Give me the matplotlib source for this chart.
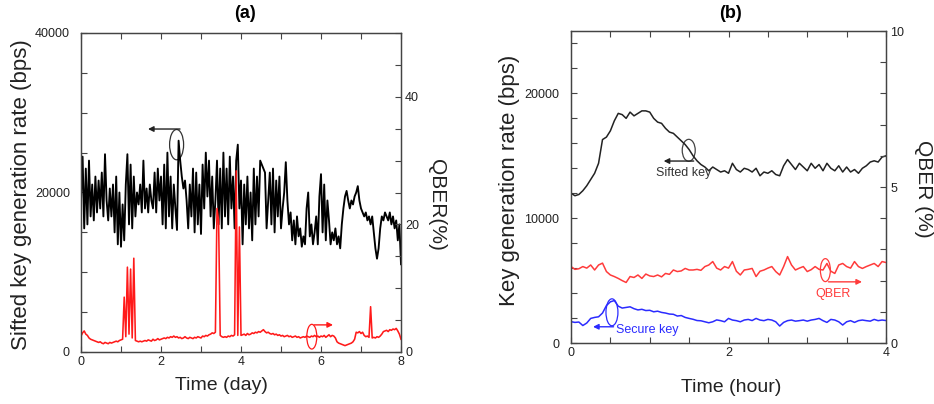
import matplotlib
matplotlib.use('Agg')
import matplotlib.pyplot as plt
from matplotlib import font_manager
from matplotlib.patches import Ellipse
from matplotlib.ticker import MultipleLocator
import numpy as np

# ---------------------------------------------------------------------
# DATA
# ---------------------------------------------------------------------
# (a) 8-day run, one sample every 0.04 day
day_step = 0.04

# sifted key rate, kbps (blocks of 0.4 day)
sifted_a_k = [
    19, 24.5, 15.5, 23, 16, 24, 17, 21, 16.5, 22,
    17.5, 21.5, 18, 22.5, 17, 24.8, 19, 16.5, 20.5, 17,
    21, 15, 22, 13.5, 20, 13.2, 18.5, 14, 21, 24.8,
    16, 23.5, 15.5, 22, 17, 20, 18.5, 21, 17.5, 24,
    18, 20.5, 17.5, 21, 19, 18, 22.5, 17.5, 23, 19,
    22, 16, 23.5, 15.5, 25, 17, 22, 15.5, 21, 18,
    15.3, 26.5, 24, 22, 20.5, 21.5, 19, 15.5, 21, 17,
    23, 15, 22.5, 16, 21, 14.8, 23.5, 18, 25, 19.5,
    24, 17, 22, 15.5, 19, 24, 16, 23, 15.5, 25,
    17, 23, 16, 24.5, 18, 22, 15.5, 24, 26, 18,
    21.5, 13.5, 21, 16, 22, 15.5, 20, 14, 23, 16,
    22, 17, 24, 23.5, 23, 22.5, 15.5, 19, 22.5, 16,
    23, 15, 21.5, 17, 22, 15.5, 18, 20, 23.8, 19,
    16, 17.5, 14, 16.5, 13.5, 17, 14.5, 15.5, 13.2, 14.5,
    13.5, 18, 20, 14.5, 16, 13.5, 15, 17, 13.5, 19.5,
    22.3, 15, 21, 14, 19, 16.5, 13.5, 15, 14, 15.5,
    13.5, 14.5, 13, 16, 18, 19.5, 20.2, 19, 18, 19,
    18.5, 19.5, 20, 20.8, 19, 18, 17.5, 17, 17.5, 16.5,
    17, 16, 17, 15, 13, 11.7, 13, 15.5, 17, 16.5,
    17.5, 17, 16.5, 17.5, 16, 17, 15.5, 16.5, 14, 16, 11,
]

# QBER, %
qber_a = [
    2.5, 3.0, 3.3, 2.8, 2.6, 2.2, 2.0, 1.9, 1.8, 1.7,
    1.6, 1.5, 1.6, 1.4, 1.3, 1.5, 1.4, 1.3, 1.5, 1.4,
    1.5, 1.6, 1.7, 1.6, 1.8, 1.9, 2.0, 8.6, 2.4, 13.3,
    2.8, 13.0, 2.2, 14.7, 1.8, 1.7, 1.6, 1.7, 1.6, 1.7,
    1.8, 1.7, 1.9, 1.8, 1.7, 2.0, 1.8, 1.9, 2.1, 1.9,
    2.0, 2.1, 2.2, 2.1, 2.3, 2.2, 2.4, 2.3, 2.5, 2.3,
    2.4, 2.2, 2.3, 2.1, 2.2, 2.4, 2.2, 2.1, 2.3, 2.2,
    2.1, 2.3, 2.2, 2.4, 2.3, 2.2, 2.5, 2.4, 2.6, 2.5,
    2.7, 2.8, 3.0, 2.9, 3.1, 22.5, 20.6, 2.6, 2.4, 2.3,
    2.4, 2.3, 2.5, 2.4, 2.6, 2.5, 2.7, 28.4, 2.6, 19.6,
    2.6, 2.7, 2.8, 2.6, 2.9, 2.7, 2.8, 3.0, 2.9, 3.1,
    3.0, 3.2, 3.1, 3.3, 3.5, 3.2, 3.0, 3.1, 2.9, 2.8,
    2.9, 2.7, 2.8, 2.6, 2.7, 2.5, 2.6, 2.4, 2.5, 2.6,
    2.4, 2.5, 2.3, 2.4, 2.5, 2.3, 2.4, 2.2, 2.3, 2.4,
    2.3, 2.5, 2.4, 2.3, 2.5, 2.4, 2.6, 2.4, 2.5, 2.3,
    2.5, 2.4, 2.6, 2.3, 2.5, 2.7, 2.4, 2.6, 2.5, 2.2,
    1.6, 1.4, 1.3, 1.2, 1.1, 1.0, 1.1, 1.2, 1.3, 1.4,
    1.6, 2.0, 3.1, 3.0, 3.2, 2.9, 3.1, 2.6, 2.4, 2.5,
    2.3, 7.1, 2.2, 2.3, 2.2, 2.4, 2.3, 2.5, 2.8, 3.2,
    3.3, 3.4, 3.2, 3.5, 3.4, 3.6, 3.5, 3.7, 3.3, 2.8, 2.0,
]

# (b) 4-hour run, one sample every 0.05 hour
hour_step = 0.05

sifted_b_k = [
    12.0, 11.8, 11.9, 12.2, 12.6, 13.1, 13.6, 14.4, 16.3, 16.5,
    17.0, 17.8, 18.4, 18.3, 18.0, 18.5, 18.2, 18.4, 18.6, 18.6,
    18.5, 18.0, 17.7, 17.6, 17.2, 16.9, 16.8, 16.5, 16.2, 15.9,
    15.5, 15.0, 14.6, 14.3, 14.1, 13.8, 14.1, 13.9, 13.7, 13.8,
    13.6, 14.4, 13.9, 13.7, 14.0, 13.9, 13.7, 14.0, 13.4, 13.7,
    13.6, 13.8, 13.5, 13.4, 14.2, 14.7, 14.3, 13.9, 14.4, 14.1,
    13.8, 14.4, 14.0, 14.3, 13.8, 14.4, 14.0, 13.8, 14.2, 13.7,
    14.1, 13.7, 13.9, 13.6, 14.0, 14.2, 14.5, 14.6, 14.5, 14.9, 15.0,
]

qber_b = [
    2.45, 2.36, 2.38, 2.45, 2.40, 2.50, 2.34, 2.50, 2.56, 2.29,
    2.18, 2.13, 2.07, 2.00, 1.94, 2.13, 2.10, 2.18, 2.07, 2.21,
    2.15, 2.13, 2.18, 2.12, 2.23, 2.20, 2.34, 2.29, 2.31, 2.39,
    2.34, 2.34, 2.36, 2.33, 2.45, 2.50, 2.61, 2.40, 2.34, 2.45,
    2.40, 2.61, 2.30, 2.18, 2.34, 2.36, 2.39, 2.13, 2.30, 2.34,
    2.40, 2.45, 2.29, 2.18, 2.45, 2.77, 2.50, 2.34, 2.40, 2.45,
    2.29, 2.35, 2.45, 2.36, 2.34, 2.55, 2.30, 2.23, 2.50, 2.55,
    2.45, 2.40, 2.61, 2.45, 2.39, 2.45, 2.50, 2.55, 2.45, 2.61, 2.58,
]

secure_b_k = [
    1.71, 1.65, 1.68, 1.40, 1.60, 1.97, 2.05, 2.10, 2.40, 3.00,
    3.30, 3.40, 2.95, 2.80, 2.85, 2.90, 2.75, 2.65, 2.70, 2.60,
    2.62, 2.50, 2.55, 2.45, 2.40, 2.32, 2.30, 2.16, 2.20, 2.05,
    1.97, 1.90, 1.80, 1.78, 1.70, 1.62, 1.70, 1.85, 1.79, 1.70,
    1.97, 1.84, 1.79, 1.70, 1.84, 1.89, 1.80, 1.97, 1.84, 1.79,
    1.89, 1.84, 1.70, 1.36, 1.65, 1.79, 1.84, 1.75, 1.79, 1.84,
    1.75, 1.84, 1.89, 1.97, 1.79, 1.65, 1.89, 1.84, 1.70, 1.44,
    1.70, 1.79, 1.65, 1.79, 1.84, 1.79, 1.75, 1.89, 1.79, 1.84, 1.80,
]

days = np.arange(len(sifted_a_k)) * day_step
hours = np.arange(len(sifted_b_k)) * hour_step

# ---------------------------------------------------------------------
# FONTS
# ---------------------------------------------------------------------
installed = {f.name for f in font_manager.fontManager.ttflist}
if 'Liberation Sans Narrow' in installed:
    tick_font, tick_size = 'Liberation Sans Narrow', 10.5
else:
    tick_font, tick_size = 'Liberation Sans', 9
plt.rcParams['font.family'] = ['Liberation Sans', 'DejaVu Sans']

SPINE = '#444444'
TXT = '#222222'

W, H = 934, 404
fig = plt.figure(figsize=(W / 100, H / 100), dpi=100)


def style_axes(ax, ax2, xmaj, xmin, ymaj, ymin, y2maj, y2min, lpad):
    for a in (ax, ax2):
        for s in a.spines.values():
            s.set_color(SPINE)
            s.set_linewidth(0.9)
    ax.xaxis.set_major_locator(MultipleLocator(xmaj))
    ax.xaxis.set_minor_locator(MultipleLocator(xmin))
    ax.yaxis.set_major_locator(MultipleLocator(ymaj))
    ax.yaxis.set_minor_locator(MultipleLocator(ymin))
    ax2.yaxis.set_major_locator(MultipleLocator(y2maj))
    ax2.yaxis.set_minor_locator(MultipleLocator(y2min))
    ax.tick_params(which='both', direction='in', top=True, right=False,
                   length=4, width=0.8, color=SPINE, labelcolor=TXT,
                   labelsize=tick_size)
    ax.tick_params(axis='x', which='both', pad=3)
    ax.tick_params(axis='y', which='both', pad=lpad)
    ax2.tick_params(which='both', direction='in', length=4, width=0.8,
                    color=SPINE, labelcolor=TXT, labelsize=tick_size, pad=3)
    for lab in ax.get_xticklabels() + ax.get_yticklabels() + ax2.get_yticklabels():
        lab.set_family(tick_font)


def arrow(ax, tail, tip, color):
    ax.annotate('', xy=tip, xytext=tail,
                arrowprops=dict(arrowstyle='-|>', color=color, lw=1.0,
                                mutation_scale=8, shrinkA=0, shrinkB=0))


# =====================================================================
# PANEL (a)
# =====================================================================
axa = fig.add_axes([81 / W, 1 - 352 / H, 320 / W, 319 / H])
axa2 = axa.twinx()
axa.plot(days, np.array(sifted_a_k) * 1000, color='black', linewidth=1.35)
axa2.plot(days, qber_a, color='#ff1a1a', linewidth=1.15)
axa.set_xlim(0, 8)
axa.set_ylim(0, 40000)
axa2.set_ylim(0, 50)
style_axes(axa, axa2, 2, 1, 20000, 5000, 20, 5, 8)

# annotations in left-axis (bps) coordinates
axa.add_patch(Ellipse((2.39, 26000), 0.35, 3800, fill=False,
                      edgecolor='#333333', lw=0.9))
arrow(axa, (2.475, 27960), (1.675, 27960), '#222222')
axa.add_patch(Ellipse((5.77, 1920), 0.25, 3100, fill=False,
                      edgecolor='#ff1a1a', lw=0.9))
arrow(axa, (5.83, 3400), (6.3, 3400), '#ff1a1a')

fig.text(245 / W, 1 - 13 / H, '(a)', fontsize=13, fontweight='bold',
         ha='center', va='center', color='black')
fig.text(21.7 / W, 1 - 195 / H, 'Sifted key generation rate (bps)',
         fontsize=16, rotation=90, ha='center', va='center', color=TXT)
fig.text(437 / W, 1 - 205 / H, 'QBER(%)', fontsize=15, rotation=-90,
         ha='center', va='center', color=TXT)
fig.text(221.5 / W, 1 - 386 / H, 'Time (day)', fontsize=14,
         ha='center', va='center', color=TXT)

# =====================================================================
# PANEL (b)
# =====================================================================
axb = fig.add_axes([571 / W, 1 - 343 / H, 315 / W, 312 / H])
axb2 = axb.twinx()
axb.plot(hours, np.array(sifted_b_k) * 1000, color='#222222', linewidth=1.1)
axb.plot(hours, np.array(secure_b_k) * 1000, color='#2b2bff', linewidth=1.1)
axb2.plot(hours, qber_b, color='#ff3b3b', linewidth=1.1)
axb.set_xlim(0, 4)
axb.set_ylim(0, 25000)
axb2.set_ylim(0, 10)
style_axes(axb, axb2, 2, 0.5, 10000, 2000, 5, 1, 8.5)

axb.add_patch(Ellipse((1.495, 15440), 0.165, 1760, fill=False,
                      edgecolor='#444444', lw=0.9))
arrow(axb, (1.558, 14580), (1.177, 14580), '#222222')
axb.text(1.43, 13600, 'Sifted key', fontsize=9, color='#333333',
         ha='center', va='center')

axb.add_patch(Ellipse((3.23, 5840), 0.127, 1840, fill=False,
                      edgecolor='#ff3b3b', lw=0.9))
arrow(axb, (3.27, 4900), (3.695, 4900), '#ff3b3b')
axb.text(3.33, 3920, 'QBER', fontsize=9, color='#ff3b3b',
         ha='center', va='center')

axb.add_patch(Ellipse((0.52, 2460), 0.152, 2160, fill=False,
                      edgecolor='#2b2bff', lw=0.9))
arrow(axb, (0.54, 1300), (0.28, 1300), '#2b2bff')
axb.text(0.965, 1040, 'Secure key', fontsize=9, color='#2b2bff',
         ha='center', va='center')

fig.text(730 / W, 1 - 13 / H, '(b)', fontsize=13, fontweight='bold',
         ha='center', va='center', color='black')
fig.text(509 / W, 1 - 180.5 / H, 'Key generation rate (bps)',
         fontsize=16, rotation=90, ha='center', va='center', color=TXT)
fig.text(923 / W, 1 - 189 / H, 'QBER (%)', fontsize=15, rotation=-90,
         ha='center', va='center', color=TXT)
fig.text(731 / W, 1 - 387 / H, 'Time (hour)', fontsize=14,
         ha='center', va='center', color=TXT)

fig.savefig('out.png', dpi=100)
plt.close(fig)
